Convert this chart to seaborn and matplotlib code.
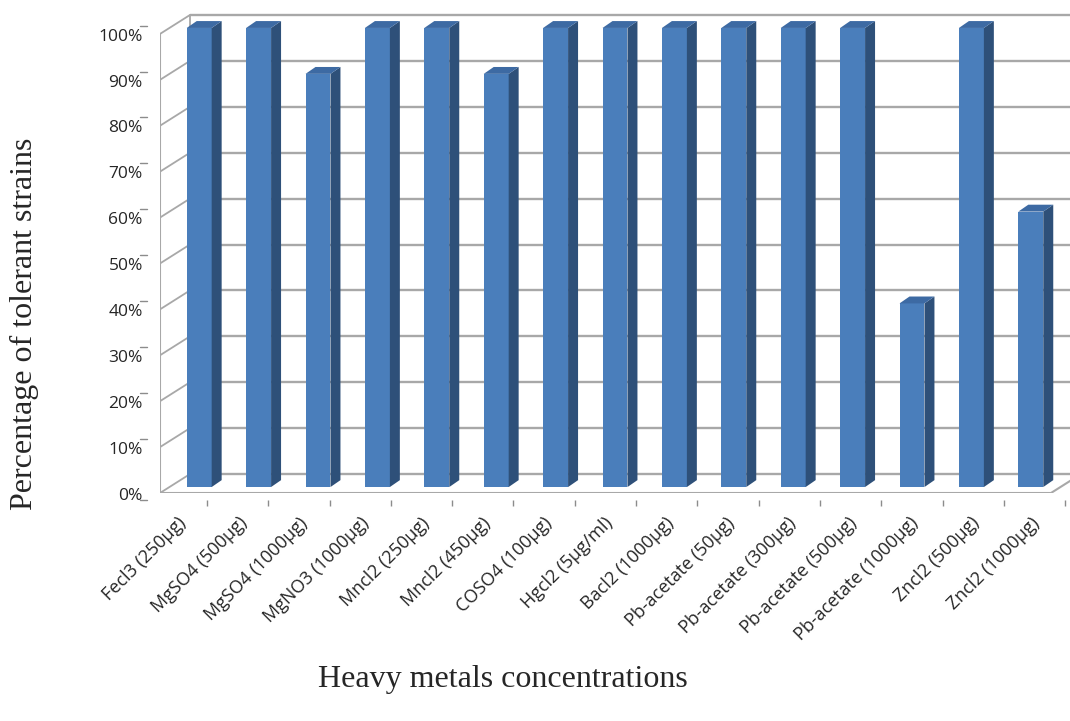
import numpy as np
import pandas as pd
import matplotlib
matplotlib.use('Agg')
import matplotlib.pyplot as plt
import seaborn as sns
from matplotlib.patches import Polygon

sns.set_style('white')
plt.rcParams['font.family'] = ['Open Sans', 'DejaVu Sans']

# data
metals = ['Fecl3 (250µg)', 'MgSO4 (500µg)', 'MgSO4 (1000µg)', 'MgNO3 (1000µg)',
          'Mncl2 (250µg)', 'Mncl2 (450µg)', 'COSO4 (100µg)', 'Hgcl2 (5µg/ml)',
          'Bacl2 (1000µg)', 'Pb-acetate (50µg)', 'Pb-acetate (300µg)',
          'Pb-acetate (500µg)', 'Pb-acetate (1000µg)', 'Zncl2 (500µg)', 'Zncl2 (1000µg)']
tolerance = [100, 100, 90, 100, 100, 90, 100, 100, 100, 100, 100, 100, 40, 100, 60]
y_ticks = list(range(0, 101, 10))

df = pd.DataFrame({'metal': metals, 'pct': tolerance})

front_c = '#4a7ebb'
side_c = '#2e5079'
top_c = '#3d6aa3'
grid_c = '#a8a8a8'

fig = plt.figure(figsize=(10.7, 7.21), dpi=100)
ax = fig.add_axes([160 / 1070, 228 / 721, 910 / 1070, 488 / 721])

# fake 3D depth offsets (data units)
fdx, fdy = -0.16, -1.3     # front plane
bdx, bdy = 0.345, 2.83     # back wall
ddx, ddy = 0.168, 1.5      # bar depth
n = len(metals)

# back wall gridlines + left wall diagonals
for v in y_ticks:
    ax.plot([-0.5 + bdx, n + 1], [v + bdy, v + bdy], color=grid_c, lw=1.7, zorder=1,
            solid_capstyle='butt')
    ax.plot([-0.5 + fdx, -0.5 + bdx], [v + fdy, v + bdy], color=grid_c, lw=1.3, zorder=1)
ax.plot([-0.5 + bdx] * 2, [bdy, 100 + bdy], color=grid_c, lw=1.3, zorder=1)
ax.plot([-0.5 + fdx] * 2, [fdy, 100 + fdy], color=grid_c, lw=1.5, zorder=1)
# floor
ax.plot([-0.5 + fdx, n - 0.5 + fdx, n - 0.5 + bdx], [fdy, fdy, bdy],
        color=grid_c, lw=1.5, zorder=1)
ax.plot([-0.5 + fdx, n - 0.5 + fdx], [fdy - 0.45, fdy - 0.45], color='#d0d0d0', lw=1.2, zorder=1)

sns.barplot(data=df, x='metal', y='pct', color=front_c, saturation=1, width=0.42,
            edgecolor='none', ax=ax, zorder=3)

for p in list(ax.patches):
    x0 = p.get_x()
    x1 = x0 + p.get_width()
    h = p.get_height()
    ax.add_patch(Polygon([(x1, 0), (x1 + ddx, ddy), (x1 + ddx, h + ddy), (x1, h)],
                         closed=True, facecolor=side_c, edgecolor='none', zorder=3))
    ax.add_patch(Polygon([(x0, h), (x0 + ddx, h + ddy), (x1 + ddx, h + ddy), (x1, h)],
                         closed=True, facecolor=top_c, edgecolor='none', zorder=3))

ax.set_xlim(-0.66, 14.66)
ax.set_ylim(-1.3, 105)
ax.axis('off')

# y tick labels
for v in y_ticks:
    ax.text(-0.95, v + fdy - 0.6, f'{v}%', ha='right', va='center', fontsize=12.5,
            color='#262626', clip_on=False)
    yy = v + fdy + 1.8 if v > 0 else v + fdy - 1.6
    ax.plot([-1.0, -0.88], [yy, yy], color='#8c8c8c', lw=1, clip_on=False)

# x tick marks and labels
tick_x = np.linspace(0.13, 14.58, n)
ax.vlines(tick_x, -4.1, -2.8, color='#8c8c8c', lw=1, clip_on=False)
label_x = np.arange(n) * 1.027 - 0.27
for xl, lab in zip(label_x, metals):
    ax.text(xl, -7.2, lab, rotation=45, ha='right', va='center', rotation_mode='anchor',
            fontsize=13, color='#262626', clip_on=False)

fig.text(24 / 1070, 1 - 324 / 721, 'Percentage of tolerant strains', rotation=90,
         ha='center', va='center', fontsize=23, family='Liberation Serif')
fig.text(503 / 1070, 1 - 679 / 721, 'Heavy metals concentrations',
         ha='center', va='center', fontsize=23, family='Liberation Serif')

fig.savefig('out.png', dpi=100)
